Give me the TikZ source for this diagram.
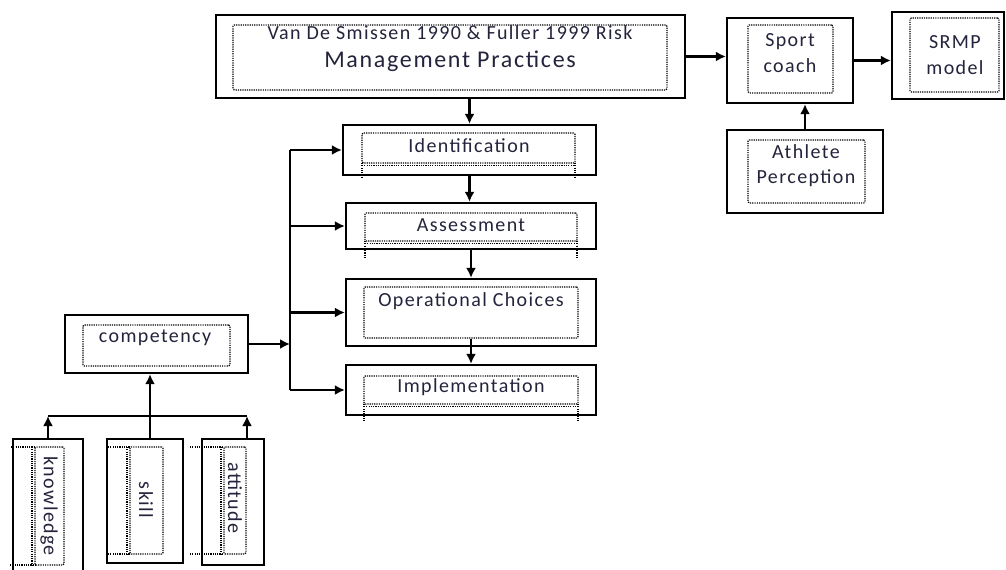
\documentclass[tikz,border=0pt]{standalone}
\usepackage{fontspec}
\setmainfont{Carlito}[LetterSpace=7]
\usetikzlibrary{arrows.meta, fit, calc}
\definecolor{txtc}{RGB}{35,35,60}

\tikzset{
  outbox/.style={draw, line width=1.7pt, inner sep=0pt},
  dotbox/.style={draw, line width=0.9pt, dash pattern=on 0.9pt off 0.8pt, inner sep=0pt, rounded corners=1pt},
  dotline/.style={line width=0.9pt, dash pattern=on 0.9pt off 0.8pt},
  lbl/.style={text=txtc, font=\fontsize{15}{19}\selectfont, align=center, inner sep=0pt},
  conn/.style={line width=1.7pt, -{Latex[length=7.5pt,width=7.5pt]}}
}

\begin{document}
\begin{tikzpicture}[x=0.75pt, y=-0.75pt]
  \useasboundingbox (0,0) rectangle (1006,570);
  % --- Top row ---
  \node[outbox, fit={(216,15) (685,98)}] (risk) {};
  \node[dotbox, fit={(233,25) (667,90)}] (risk-in) {};
  \node[lbl] (risk-t) at (450,49) {Van De Smissen 1990 \& Fuller 1999 Risk\\[2pt]{\fontsize{18}{21}\selectfont Management Practices}};
  \node[outbox, fit={(727,18) (853,103)}] (coach) {};
  \node[dotbox, fit={(748,25) (833,93)}] (coach-in) {};
  \node[lbl] (coach-t) at (790,53) {Sport\\coach};
  \node[outbox, fit={(892,12) (1004,99)}] (srmp) {};
  \node[dotbox, fit={(910,18) (999,92)}] (srmp-in) {};
  \node[lbl] (srmp-t) at (955,55) {SRMP\\model};
  \node[outbox, fit={(727,130) (883,213)}] (athl) {};
  \node[dotbox, fit={(748,140) (865,203)}] (athl-in) {};
  \node[lbl] (athl-t) at (806,166) {Athlete\\Perception};

  % --- Risk management steps ---
  \node[outbox, fit={(343,125) (596,175)}] (ident) {};
  \node[dotbox, fit={(362,133) (575,163)}] (ident-in) {};
  \node[lbl] (ident-t) at (469,146) {Identification};
  \draw[dotline] (362,163) -- (362,177) (575,163) -- (575,177) (362,165.5) -- (575,165.5);
  \node[outbox, fit={(346,203) (596,249)}] (assess) {};
  \node[dotbox, fit={(365,213) (577,241)}] (assess-in) {};
  \node[lbl] (assess-t) at (471,225) {Assessment};
  \draw[dotline] (365,241) -- (365,259) (577,241) -- (577,259) (365,243.5) -- (577,243.5);
  \node[outbox, fit={(346,279) (596,346)}] (oper) {};
  \node[dotbox, fit={(364,287) (578,338)}] (oper-in) {};
  \node[lbl] (oper-t) at (471,301) {Operational Choices};
  \node[outbox, fit={(346,365) (596,415)}] (impl) {};
  \node[dotbox, fit={(364,376) (578,404)}] (impl-in) {};
  \node[lbl] (impl-t) at (471,387) {Implementation};
  \draw[dotline] (364,404) -- (364,420) (578,404) -- (578,420) (364,406.5) -- (578,406.5);

  % --- Competency ---
  \node[outbox, fit={(65,315) (248,373)}] (comp) {};
  \node[dotbox, fit={(83,325) (230,366)}] (comp-in) {};
  \node[lbl] (comp-t) at (155,338) {competency};
  \node[outbox, fit={(13,439) (83,575)}] (know) {};
  \node[dotbox, fit={(35,447) (64,565)}] (know-in) {};
  \node[lbl, rotate=-90] (know-t) at (49,506) {knowledge};
  \draw[dotline] (11,447) -- (35,447) (10,565) -- (35,565) (32,447) -- (32,565);
  \node[outbox, fit={(107,439) (183,563)}] (skill) {};
  \node[dotbox, fit={(130,447) (163,554)}] (skill-in) {};
  \node[lbl, rotate=-90] (skill-t) at (146,500) {skill};
  \draw[dotline] (108,447) -- (130,447) (108,554) -- (130,554) (127,447) -- (127,554);
  \node[outbox, fit={(202,439) (264,565)}] (att) {};
  \node[dotbox, fit={(224,447) (246,554)}] (att-in) {};
  \node[lbl, rotate=-90] (att-t) at (235,498) {attitude};
  \draw[dotline] (190,447) -- (224,447) (190,554) -- (224,554) (221,447) -- (221,554);

  % Arrows
  \coordinate (bus) at (290,347);
  \coordinate (kbus) at (150,416);
  \draw[conn] (risk.east) -- (risk.east -| coach.west);
  \draw[conn] (coach.east) -- (coach.east -| srmp.west);
  \draw[conn] (athl.north) -- (athl.north |- coach.south);
  \draw[conn] (risk.south -| ident.north) -- (ident.north);
  \draw[conn] (ident.south) -- (ident.south |- assess.north);
  \draw[conn] (assess.south) -- (assess.south |- oper.north);
  \draw[conn] (oper-in.south -| impl.north) -- (impl.north);
  \draw[line width=1.7pt] (bus |- ident.west) -- (bus |- impl.west);
  \draw[conn] (comp.east) -- (comp.east -| bus);
  \foreach \n in {ident, assess, oper, impl}
    \draw[conn] (bus |- \n.west) -- (\n.west);
  \draw[conn] (skill.north -| kbus) -- (kbus |- comp.south);
  \draw[line width=1.7pt] (know.north |- kbus) -- ($(att.north |- kbus)+(14,0)$);
  \draw[conn] (know.north) -- (know.north |- kbus);
  \draw[conn] ($(att.north)+(14,0)$) -- ($(att.north |- kbus)+(14,0)$);
\end{tikzpicture}
\end{document}
